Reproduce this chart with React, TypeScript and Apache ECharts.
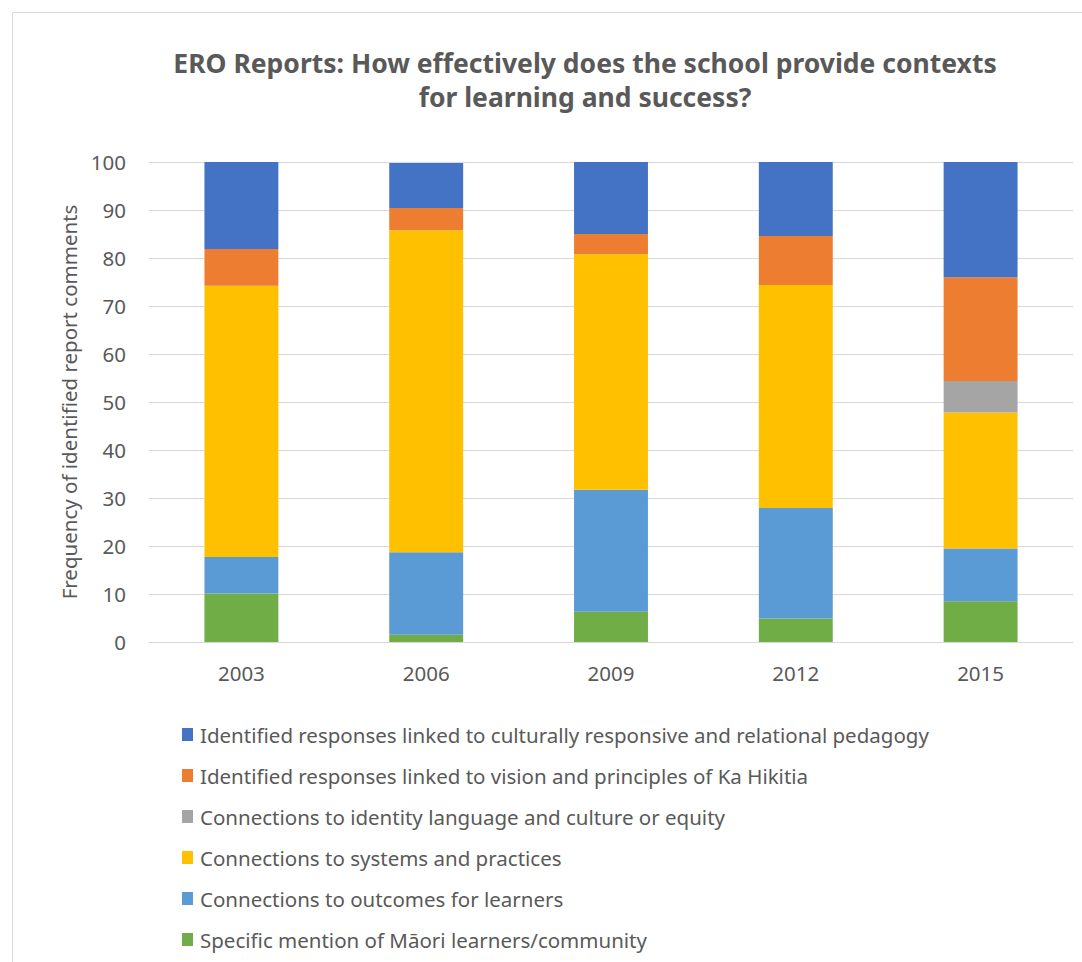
import React, { useEffect, useRef } from "react";
import * as echarts from "echarts";

const years = ["2003", "2006", "2009", "2012", "2015"];
const maoriMention = [10.1, 1.5, 6.3, 4.9, 8.5];
const outcomes = [7.6, 17.2, 25.4, 23.0, 11.0];
const systems = [56.5, 67.1, 49.1, 46.5, 28.3];
const identity = [0, 0, 0, 0, 6.6];
const kaHikitia = [7.7, 4.6, 4.2, 10.2, 21.6];
const pedagogy = [18.1, 9.4, 15.0, 15.4, 24.0];
const yTicks = [0, 10, 20, 30, 40, 50, 60, 70, 80, 90, 100];

const names = {
  pedagogy: "Identified responses linked to culturally responsive and relational pedagogy",
  ka: "Identified responses linked to vision and principles of Ka Hikitia",
  identity: "Connections to identity language and culture or equity",
  systems: "Connections to systems and practices",
  outcomes: "Connections to outcomes for learners",
  maori: "Specific mention of Māori learners/community",
};

const FONT = "Noto Sans";
const TXT = "#595959";

export default function App() {
  const ref = useRef<HTMLDivElement>(null);
  useEffect(() => {
    if (!ref.current) return;
    const chart = echarts.init(ref.current, undefined, { renderer: "svg" });
    const mk = (name: string, data: number[], color: string) => ({
      name,
      type: "bar",
      stack: "total",
      data,
      barWidth: "40%",
      itemStyle: { color },
    });
    chart.setOption({
      animation: false,
      textStyle: { fontFamily: FONT },
      graphic: [
        {
          type: "rect",
          shape: { x: 12.5, y: 12.5, width: 1200, height: 1200 },
          style: { fill: "none", stroke: "#d9d9d9", lineWidth: 1 },
          silent: true,
        },
        {
          type: "text",
          x: 585,
          y: 80,
          style: {
            text: "ERO Reports: How effectively does the school provide contexts\nfor learning and success?",
            textAlign: "center",
            textVerticalAlign: "middle",
            font: `bold 26.5px "${FONT}"`,
            lineHeight: 34,
            fill: TXT,
          },
        },
      ],
      grid: { left: 149, right: 9, top: 162, bottom: 320 },
      xAxis: {
        type: "category",
        data: years,
        axisLine: { lineStyle: { color: "#d9d9d9", width: 1 } },
        axisTick: { show: false },
        axisLabel: { color: TXT, fontSize: 20.5, margin: 20, fontFamily: FONT },
      },
      yAxis: {
        type: "value",
        min: yTicks[0],
        max: yTicks[yTicks.length - 1],
        interval: 10,
        name: "Frequency of identified report comments",
        nameLocation: "middle",
        nameGap: 68,
        nameRotate: 90,
        nameTextStyle: { color: TXT, fontSize: 20.5, fontFamily: FONT },
        axisLine: { show: false },
        axisTick: { show: false },
        axisLabel: { color: TXT, fontSize: 20.5, margin: 23, fontFamily: FONT },
        splitLine: { lineStyle: { color: "#d9d9d9", width: 1 } },
      },
      legend: {
        orient: "vertical",
        left: 182,
        top: 724,
        padding: 0,
        itemWidth: 11,
        itemHeight: 13,
        itemGap: 20,
        icon: "rect",
        textStyle: { color: TXT, fontSize: 20.5, lineHeight: 20, fontFamily: FONT, padding: [0, 0, 0, 2] },
        data: [names.pedagogy, names.ka, names.identity, names.systems, names.outcomes, names.maori],
      },
      series: [
        mk(names.maori, maoriMention, "#70AD47"),
        mk(names.outcomes, outcomes, "#5B9BD5"),
        mk(names.systems, systems, "#FFC000"),
        mk(names.identity, identity, "#A5A5A5"),
        mk(names.ka, kaHikitia, "#ED7D31"),
        mk(names.pedagogy, pedagogy, "#4472C4"),
      ],
    });
    return () => chart.dispose();
  }, []);
  return (
    <div
      ref={ref}
      style={{ position: "fixed", left: 0, top: 0, width: 1082, height: 962, background: "#fff" }}
    />
  );
}
